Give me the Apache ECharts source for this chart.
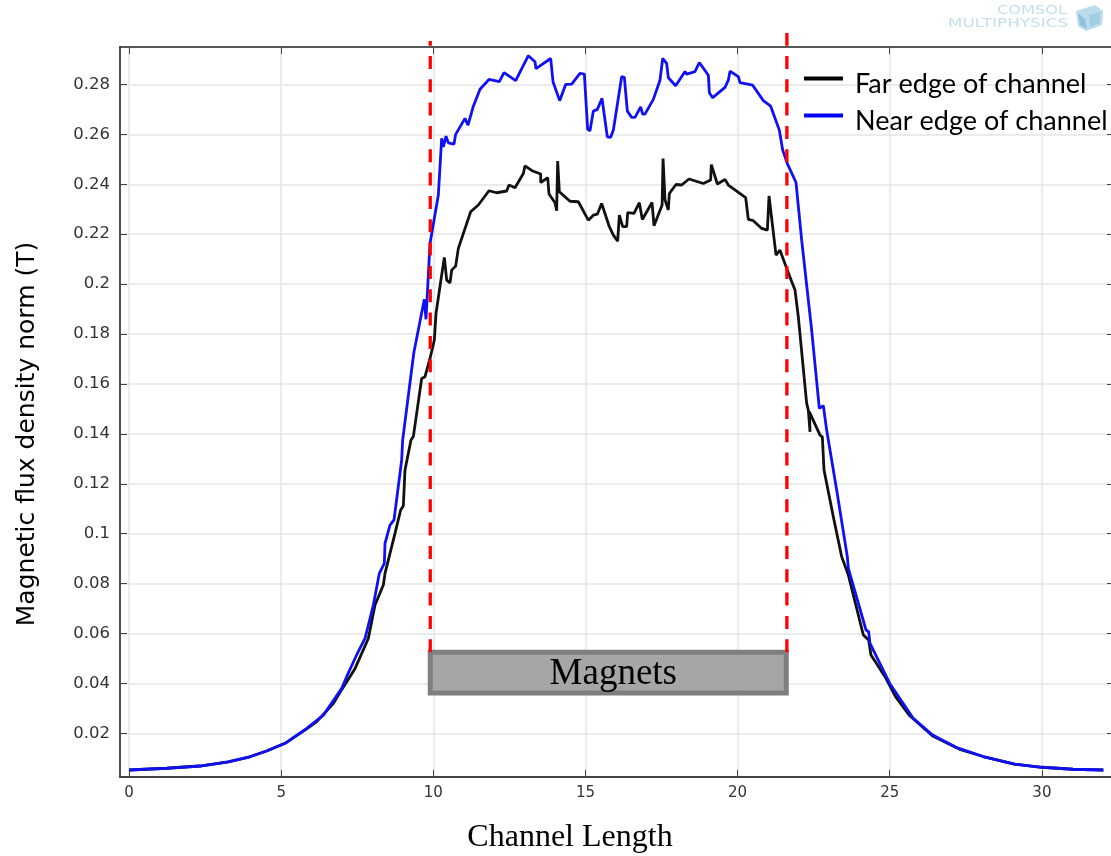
<!DOCTYPE html>
<html>
<head>
<meta charset="utf-8">
<title>Magnetic flux density along the channel</title>
<script src="https://cdn.jsdelivr.net/npm/echarts@6/dist/echarts.min.js"></script>
<style>
  html, body { margin: 0; padding: 0; background: #fff; }
  #chart { width: 1111px; height: 856px; }
</style>
</head>
<body>
<div id="chart"></div>
<script>
const xTicks = [0, 5, 10, 15, 20, 25, 30];
const yTicks = [0.02, 0.04, 0.06, 0.08, 0.1, 0.12, 0.14, 0.16, 0.18, 0.2, 0.22, 0.24, 0.26, 0.28];
const legendNames = ['Far edge of channel', 'Near edge of channel'];

// [channel length, flux density]
const farEdge = [
  [0, 0.0053], [1.24, 0.006], [2.33, 0.0069], [3.26, 0.0086], [3.97, 0.0106], [4.52, 0.0129], [5.13, 0.016],
  [5.84, 0.0218], [6.17, 0.0247], [6.72, 0.032], [6.99, 0.0375], [7.43, 0.046], [7.865, 0.058], [8.084, 0.0714],
  [8.358, 0.0794], [8.413, 0.0841], [8.741, 0.1001], [8.928, 0.1095], [9.015, 0.1111], [9.07, 0.1255],
  [9.267, 0.1375], [9.344, 0.1389], [9.618, 0.1622], [9.727, 0.1629], [9.892, 0.1702], [10.034, 0.1776],
  [10.089, 0.1882], [10.275, 0.2036], [10.363, 0.2107], [10.44, 0.2016], [10.549, 0.2005], [10.604, 0.2056],
  [10.735, 0.2072], [10.823, 0.2143], [11.228, 0.229], [11.48, 0.2317], [11.83, 0.2374], [12.083, 0.2366],
  [12.411, 0.2373], [12.488, 0.2397], [12.685, 0.2386], [12.959, 0.2443], [13.014, 0.2474], [13.266, 0.2453],
  [13.529, 0.2441], [13.53, 0.2407], [13.759, 0.2427], [13.803, 0.2361], [14.0, 0.2326], [14.054, 0.2294],
  [14.087, 0.2493], [14.142, 0.237], [14.493, 0.2332], [14.767, 0.233], [15.095, 0.2256], [15.259, 0.2276],
  [15.391, 0.228], [15.533, 0.2323], [15.785, 0.223], [15.917, 0.2196], [16.059, 0.2172], [16.114, 0.2276],
  [16.224, 0.223], [16.355, 0.223], [16.388, 0.2286], [16.596, 0.2283], [16.771, 0.2326], [16.87, 0.2259],
  [17.188, 0.2327], [17.253, 0.2234], [17.52, 0.2317], [17.55, 0.2503], [17.615, 0.2337], [17.724, 0.2297],
  [17.757, 0.2363], [17.976, 0.2399], [18.162, 0.2397], [18.403, 0.2421], [18.874, 0.2403], [19.115, 0.2417],
  [19.137, 0.2479], [19.335, 0.2401], [19.587, 0.2419], [19.696, 0.2397], [20.266, 0.2346], [20.353, 0.2259],
  [20.518, 0.2254], [20.792, 0.2223], [20.979, 0.2216], [21.033, 0.2353], [21.263, 0.2116], [21.394, 0.2136],
  [21.613, 0.2063], [21.777, 0.201], [21.887, 0.1976], [21.996, 0.1869], [22.27, 0.1522], [22.325, 0.1495],
  [22.38, 0.1408], [22.36, 0.1488], [22.708, 0.1395], [22.785, 0.1388], [22.84, 0.1255], [23.146, 0.1068],
  [23.42, 0.0908], [23.64, 0.0834], [24.132, 0.0594], [24.307, 0.0574], [24.384, 0.0514], [24.844, 0.0427],
  [25.19, 0.0347], [25.64, 0.0273], [26.41, 0.0189], [27.3, 0.0136], [28.07, 0.0107], [29.1, 0.0077],
  [30.0, 0.0064], [31.02, 0.0056], [32.02, 0.0053]
];

const nearEdge = [
  [0, 0.0053], [1.24, 0.006], [2.33, 0.0069], [3.26, 0.0086], [3.97, 0.0106], [4.52, 0.0129], [5.13, 0.016],
  [5.84, 0.022], [6.39, 0.0273], [6.99, 0.038], [7.153, 0.0427], [7.48, 0.0514], [7.756, 0.058], [8.03, 0.0714],
  [8.227, 0.0841], [8.391, 0.0881], [8.413, 0.0961], [8.577, 0.1034], [8.709, 0.1055], [8.961, 0.1295],
  [8.993, 0.1375], [9.322, 0.1689], [9.366, 0.1729], [9.706, 0.1939], [9.76, 0.1859], [9.892, 0.2163],
  [10.166, 0.2357], [10.275, 0.2584], [10.33, 0.255], [10.418, 0.2593], [10.494, 0.2566], [10.68, 0.2561],
  [10.735, 0.26], [11.042, 0.2664], [11.14, 0.2637], [11.316, 0.2713], [11.535, 0.2781], [11.83, 0.282],
  [12.17, 0.2811], [12.324, 0.2847], [12.707, 0.2815], [13.123, 0.2915], [13.342, 0.2891], [13.375, 0.2863],
  [13.857, 0.2904], [13.934, 0.2811], [14.153, 0.2735], [14.35, 0.28], [14.547, 0.2801], [14.821, 0.2844],
  [14.964, 0.2841], [15.073, 0.262], [15.15, 0.2614], [15.259, 0.2693], [15.391, 0.27], [15.544, 0.2744],
  [15.719, 0.259], [15.829, 0.2588], [15.917, 0.2617], [16.19, 0.2831], [16.278, 0.2828], [16.377, 0.2693],
  [16.519, 0.2668], [16.629, 0.2668], [16.815, 0.271], [16.881, 0.2681], [16.957, 0.2681], [17.231, 0.274],
  [17.45, 0.2817], [17.538, 0.2904], [17.669, 0.2884], [17.724, 0.2827], [17.965, 0.2795], [18.272, 0.2852],
  [18.327, 0.2841], [18.6, 0.2851], [18.743, 0.2888], [19.039, 0.2837], [19.072, 0.2767], [19.181, 0.2747],
  [19.587, 0.2788], [19.696, 0.2817], [19.751, 0.2853], [20.025, 0.2831], [20.079, 0.2807], [20.496, 0.2797],
  [20.846, 0.2735], [21.087, 0.2713], [21.372, 0.2617], [21.481, 0.2537], [21.635, 0.2483], [21.92, 0.2407],
  [22.106, 0.2176], [22.434, 0.1816], [22.686, 0.1502], [22.818, 0.1513], [22.927, 0.1415], [23.256, 0.1175],
  [23.606, 0.0908], [23.64, 0.0861], [24.22, 0.0614], [24.307, 0.0607], [24.351, 0.056], [25.0, 0.04],
  [25.77, 0.026], [26.41, 0.0193], [27.18, 0.0144], [28.07, 0.0107], [29.1, 0.0077], [30.0, 0.0064],
  [31.02, 0.0056], [32.02, 0.0053]
];

const magnetStart = [[9.9, 0.0525], [9.9, 0.2974]];
const magnetEnd = [[21.62, 0.0525], [21.62, 0.3006]];
const magnetBox = [[9.9, 0.05245], [21.6, 0.03615]];

const sansFont = '"DejaVu Sans"';
const serifFont = '"Liberation Serif"';
const tickColor = '#333';

function tickLabel (v) {
  return String(Number(v.toFixed(2)));
}

const chart = echarts.init(document.getElementById('chart'), null, { renderer: 'canvas' });

chart.setOption({
  animation: false,
  backgroundColor: '#fff',
  grid: { left: 120, top: 47, width: 994, height: 730, outerBoundsMode: 'none' },
  legend: {
    data: legendNames,
    orient: 'vertical',
    left: 799,
    top: 66,
    itemWidth: 39,
    itemHeight: 16,
    itemGap: 10,
    // bar sits at the top of the icon box, so the text hangs below it
    icon: 'path://M0 0H39V4H0Z M0 16H0V16Z',
    selectedMode: false,
    textStyle: {
      fontFamily: 'Lato',
      fontSize: 27,
      color: '#000',
      padding: [0, 0, 0, 7]
    }
  },
  xAxis: [{
    type: 'value',
    min: -0.296,
    max: 32.37,
    name: 'Channel Length',
    nameLocation: 'middle',
    nameGap: 45,
    nameTextStyle: { fontFamily: serifFont, fontSize: 32, color: '#000', padding: [0, 94, 0, 0] },
    axisLine: { onZero: false, lineStyle: { color: '#444', width: 2 } },
    axisTick: { inside: true, length: 7, customValues: xTicks, lineStyle: { color: '#444', width: 1 } },
    axisLabel: { customValues: xTicks, margin: 9, fontFamily: sansFont, fontSize: 15, color: tickColor, showMinLabel: true, showMaxLabel: true },
    splitLine: { show: true, lineStyle: { color: '#e4e4e4', width: 1.5 } }
  }, {
    type: 'value',
    position: 'top',
    min: -0.296,
    max: 32.37,
    axisLine: { onZero: false, lineStyle: { color: '#222', width: 1.5 } },
    axisTick: { inside: true, length: 7, customValues: xTicks, lineStyle: { color: '#444', width: 1 } },
    axisLabel: { show: false },
    splitLine: { show: false }
  }],
  yAxis: [{
    type: 'value',
    min: 0.0025,
    max: 0.295,
    name: 'Magnetic flux density norm (T)',
    nameLocation: 'middle',
    nameGap: 80,
    nameTextStyle: { fontFamily: sansFont, fontSize: 25, color: '#000', padding: [0, 44, 0, 0] },
    axisLine: { onZero: false, lineStyle: { color: '#505050', width: 2 } },
    axisTick: { inside: true, length: 7, customValues: yTicks, lineStyle: { color: '#444', width: 1 } },
    axisLabel: { customValues: yTicks, margin: 10, fontFamily: sansFont, fontSize: 16.5, color: tickColor, padding: [3, 0, 0, 0], formatter: tickLabel },
    splitLine: { show: true, lineStyle: { color: '#e4e4e4', width: 1.5 } }
  }, {
    type: 'value',
    position: 'right',
    min: 0.0025,
    max: 0.295,
    axisLine: { onZero: false, lineStyle: { color: '#444', width: 1 } },
    axisTick: { inside: true, length: 7, customValues: yTicks, lineStyle: { color: '#444', width: 1 } },
    axisLabel: { show: false },
    splitLine: { show: false }
  }],
  series: [
    {
      name: legendNames[0],
      type: 'line',
      data: farEdge,
      showSymbol: false,
      lineStyle: { color: '#111', width: 2.8 },
      itemStyle: { color: '#000' },
      z: 3
    },
    {
      name: legendNames[1],
      type: 'line',
      data: nearEdge,
      showSymbol: false,
      lineStyle: { color: '#1010f5', width: 2.8 },
      itemStyle: { color: '#0000ff' },
      z: 4
    },
    {
      type: 'line',
      name: 'Magnet start',
      data: magnetStart,
      clip: false,
      showSymbol: false,
      lineStyle: { color: '#ff0000', width: 3.3, type: [13, 10.33] },
      z: 5
    },
    {
      type: 'line',
      name: 'Magnet end',
      data: magnetEnd,
      clip: false,
      showSymbol: false,
      lineStyle: { color: '#ff0000', width: 3.3, type: [13, 10.33] },
      z: 5
    },
    {
      type: 'line',
      name: 'Magnets',
      data: [],
      z: 6,
      markArea: {
        silent: true,
        itemStyle: { color: '#a6a6a6', borderColor: '#7f7f7f', borderWidth: 5 },
        label: {
          show: true,
          position: 'inside',
          formatter: 'Magnets',
          offset: [5, 2],
          fontFamily: serifFont,
          fontSize: 37,
          color: '#000'
        },
        data: [[{ coord: magnetBox[0] }, { coord: magnetBox[1] }]]
      }
    }
  ],
  graphic: [
    {
      type: 'text',
      x: 997,
      y: 5,
      scaleX: 1.35,
      style: { text: 'COMSOL', fontFamily: sansFont, fontSize: 12, fill: '#c5deee' }
    },
    {
      type: 'text',
      x: 948,
      y: 18,
      scaleX: 1.4,
      style: { text: 'MULTIPHYSICS', fontFamily: sansFont, fontSize: 12, fill: '#c5deee' }
    },
    {
      type: 'polygon',
      shape: { points: [[1076, 11], [1095, 5], [1103, 11], [1102, 25], [1086, 31], [1078, 26]] },
      style: { fill: '#bcdcee' }
    },
    {
      type: 'polygon',
      shape: { points: [[1078, 13], [1085, 19], [1087, 29], [1080, 25]] },
      style: { fill: '#8fc2df' }
    },
    {
      type: 'polygon',
      shape: { points: [[1089, 15], [1100, 12], [1100, 23], [1090, 27]] },
      style: { fill: '#a3cde5' }
    }
  ]
});
</script>
</body>
</html>
